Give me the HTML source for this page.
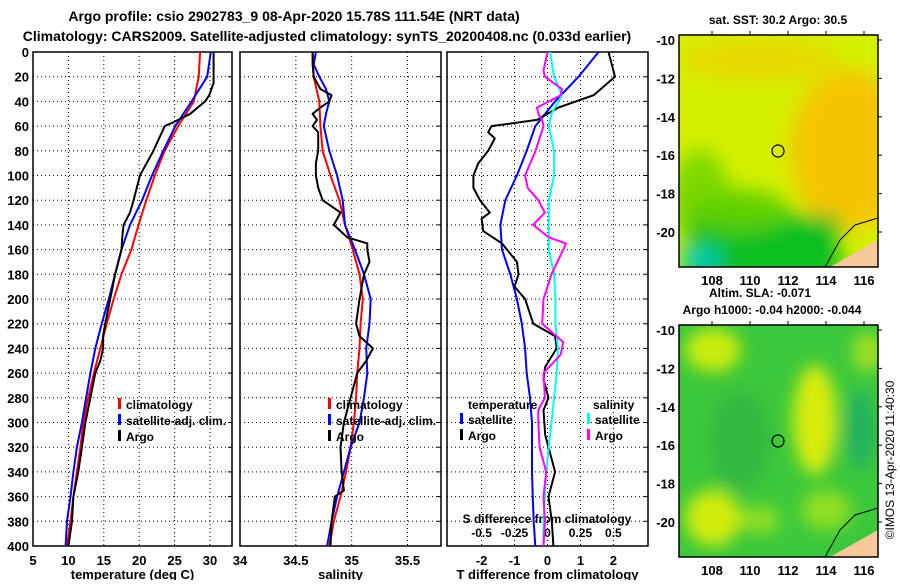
<!DOCTYPE html>
<html><head><meta charset="utf-8"><style>
html,body{margin:0;padding:0;background:#fff;}
body{width:900px;height:580px;overflow:hidden;font-family:"Liberation Sans",sans-serif;}
svg text{font-family:"Liberation Sans",sans-serif;font-weight:bold;fill:#000;}
</style></head><body>
<svg id="fig" width="900" height="580" viewBox="0 0 900 580" xmlns="http://www.w3.org/2000/svg">
<defs>
<filter id="blur1" x="-50%" y="-50%" width="200%" height="200%"><feGaussianBlur stdDeviation="10"/></filter>
<filter id="blur2" x="-50%" y="-50%" width="200%" height="200%"><feGaussianBlur stdDeviation="8"/></filter>
<clipPath id="clipM1"><rect x="679" y="35" width="199" height="232"/></clipPath>
<clipPath id="clipM2"><rect x="679" y="325" width="199" height="232"/></clipPath>
</defs>
<text x="294" y="21" font-size="14" text-anchor="middle">Argo profile: csio 2902783_9 08-Apr-2020 15.78S 111.54E (NRT data)</text>
<text x="327" y="41" font-size="14" text-anchor="middle">Climatology: CARS2009. Satellite-adjusted climatology: synTS_20200408.nc (0.033d earlier)</text>

<g id="map1">
<text x="778" y="24" font-size="12" text-anchor="middle">sat. SST: 30.2 Argo: 30.5</text>
<g clip-path="url(#clipM1)">
<rect x="679" y="35" width="199" height="232" fill="#d4f000"/>
<g filter="url(#blur1)">
<ellipse cx="850" cy="150" rx="60" ry="80" fill="#f5c400"/>
<ellipse cx="760" cy="60" rx="80" ry="20" fill="#e8d800"/>
<ellipse cx="700" cy="200" rx="30" ry="50" fill="#7ed800"/>
<rect x="690" y="215" width="150" height="70" fill="#10c020"/>
<ellipse cx="740" cy="210" rx="50" ry="20" fill="#60d000"/>
<rect x="679" y="250" width="40" height="20" fill="#00ccc0"/>
</g>
<polygon points="830,267 878,240 878,267" fill="#f7c89a"/>
<path d="M825,267 L840,240 L855,225 L878,218" stroke="#000" stroke-width="1" fill="none"/>
</g>
<rect x="679" y="35" width="199" height="232" fill="none" stroke="#000" stroke-width="1.5"/>
<circle cx="778" cy="151" r="6" fill="none" stroke="#000" stroke-width="1.2"/>
</g>

<g id="map2">
<text x="760" y="297" font-size="12" text-anchor="middle">Altim. SLA: -0.071</text>
<text x="772" y="314" font-size="12" text-anchor="middle">Argo h1000: -0.04 h2000: -0.044</text>
<g clip-path="url(#clipM2)">
<rect x="679" y="325" width="199" height="232" fill="#3cc83c"/>
<g filter="url(#blur2)">
<ellipse cx="713" cy="350" rx="28" ry="22" fill="#c8ec10"/>
<ellipse cx="815" cy="420" rx="22" ry="55" fill="#d8ec10"/>
<ellipse cx="713" cy="518" rx="28" ry="28" fill="#d0ec10"/>
<ellipse cx="826" cy="510" rx="25" ry="20" fill="#90e020"/>
<ellipse cx="760" cy="520" rx="20" ry="14" fill="#90e020"/>
<ellipse cx="868" cy="352" rx="15" ry="20" fill="#a0e020"/>
<ellipse cx="860" cy="430" rx="14" ry="40" fill="#22b060"/>
<ellipse cx="740" cy="440" rx="30" ry="50" fill="#30b840"/>
</g>
<polygon points="830,557 878,530 878,557" fill="#f7c89a"/>
<path d="M825,557 L840,530 L855,515 L878,508" stroke="#000" stroke-width="1" fill="none"/>
</g>
<rect x="679" y="325" width="199" height="232" fill="none" stroke="#000" stroke-width="1.5"/>
<circle cx="778" cy="441" r="6" fill="none" stroke="#000" stroke-width="1.2"/>
</g>
<text transform="translate(894,460) rotate(-90)" font-size="12" text-anchor="middle" style="font-weight:normal">©IMOS 13-Apr-2020 11:40:30</text>
<g id="plots"></g>
</svg>
<script>
// ---- data ----
const depthTicks=[0,20,40,60,80,100,120,140,160,180,200,220,240,260,280,300,320,340,360,380,400];
const tempTicks=[5,10,15,20,25,30];
const salTicks=[34,34.5,35,35.5];
const tdiffTicks=[-2,-1,0,1,2];
const sdiffTicks=[-0.5,-0.25,0,0.25,0.5];
const sdiffTickLabels=['-0.5','-0.25','0','0.25','0.5'];

const climTDepth=[0,20,40,60,80,100,120,140,160,180,200,220,240,260,280,300,320,340,360,380,400];
const climT=[28.6,28.4,27.7,25.5,23.6,22.2,21,19.9,18.9,17.5,16.4,15.4,14.5,13.6,12.8,12.1,11.7,11.2,10.7,10.3,9.8];
const satT=[30.1,29.6,27.4,25.1,23.4,21.8,20.4,18.7,17.5,16.6,15.7,14.7,13.8,13.1,12.5,11.9,11.2,10.7,10.3,9.8,9.6];
const argoTDepth=[0,25,35,40,50,57,60,65,80,100,120,130,140,150,160,180,200,220,230,240,250,260,280,300,320,340,360,380,400];
const argoT=[30.5,30.5,29.9,29.3,27.2,24.8,23.6,23.2,22,20.1,19.2,18.7,17.8,17.6,17.5,16.6,15.9,15.2,14.9,14.9,14.5,13.8,13.1,12.4,11.9,11.4,10.7,10.5,10];

const climS=[34.65,34.66,34.71,34.72,34.74,34.81,34.89,34.94,35.01,35.07,35.10,35.08,35.07,35.05,35.04,35.02,34.99,34.95,34.90,34.84,34.80];
const satSDepth=[0,10,20,30,40,50,60,80,100,120,140,160,180,200,220,240,260,280,300,320,340,360,380,400];
const satS=[34.68,34.66,34.71,34.77,34.80,34.77,34.75,34.80,34.87,34.92,34.94,35.03,35.11,35.17,35.16,35.13,35.14,35.11,35.07,34.99,34.93,34.87,34.82,34.78];
const argoSDepth=[0,10,20,30,35,40,45,50,55,60,65,70,80,90,100,110,120,130,140,150,155,160,170,180,200,220,230,240,250,260,280,300,320,340,355,360,380,400];
const argoS=[34.65,34.65,34.66,34.72,34.82,34.80,34.72,34.65,34.69,34.65,34.70,34.70,34.70,34.68,34.68,34.70,34.74,34.90,34.84,34.96,35.14,35.14,35.16,35.11,35.07,35.04,35.07,35.19,35.13,35.05,34.99,34.93,34.90,34.91,34.93,34.85,34.82,34.81];

const satTdiff=[1.55,0.94,0.23,-0.37,-0.63,-0.93,-1.28,-1.43,-1.38,-1.13,-0.93,-0.78,-0.68,-0.63,-0.53,-0.47,-0.47,-0.47,-0.45,-0.42,-0.37];
const argoTdDepth=[0,20,35,45,55,60,65,70,80,90,100,110,120,130,135,145,155,170,180,190,200,220,230,240,255,265,280,290,310,320,340,360,380,400];
const argoTdiff=[1.85,2.05,1.4,0.33,-0.32,-1.7,-1.8,-1.6,-1.8,-2.1,-2.25,-2.25,-2.05,-1.75,-2.0,-1.95,-1.38,-0.93,-0.88,-1.0,-0.68,-0.43,0.23,0.28,-0.07,-0.12,0.03,-0.12,-0.07,0.03,0.23,0.03,0.13,0.18];
const satSdiff=[0.02,0.05,0.11,0.03,0.01,0.05,0.05,0.01,0.01,0.01,0.05,0.06,0.06,0.08,0.07,0.05,0.03,0.01,-0.01,-0.02,-0.03,-0.03];
const satSdDepth=[0,20,35,50,60,80,100,120,140,160,180,200,220,240,260,280,300,320,340,360,380,400];
const argoSdDepth=[0,15,20,30,35,45,50,55,60,80,100,110,120,130,140,150,155,160,180,200,220,235,245,260,280,290,300,320,340,360,380,400];
const argoSdiff=[0,-0.03,-0.02,0.11,0.10,-0.08,-0.07,-0.04,-0.03,-0.09,-0.17,-0.15,-0.07,-0.02,-0.11,0.01,0.14,0.12,0.03,-0.03,-0.04,0.12,0.10,-0.03,-0.02,-0.07,-0.07,-0.06,-0.01,-0.03,-0.02,-0.03];

// ---- axes ----
const TOP=52,BOT=546;
const yD=d=>TOP+d*(BOT-TOP)/400;
const P1={x0:33,x1:232,min:5,max:33.1};
const P2={x0:240,x1:441,min:34,max:35.8};
const P3={x0:447,x1:648,min:-3.05,max:3.05};
const P3S={x0:447,x1:648,min:-0.7625,max:0.7625};
const sx=(p,v)=>p.x0+(v-p.min)*(p.x1-p.x0)/(p.max-p.min);

const NS='http://www.w3.org/2000/svg';
const root=document.getElementById('plots');
function mk(tag,attrs,parent){const e=document.createElementNS(NS,tag);for(const k in attrs)e.setAttribute(k,attrs[k]);(parent||root).appendChild(e);return e;}

function panel(p,name,xticks,xlabels,xtitle,showY){
  const g=mk('g',{});
  
  
  depthTicks.forEach(d=>{
    if(d>0&&d<400){const l=mk('line',{x1:p.x0,x2:p.x1,y1:yD(d),y2:yD(d),stroke:'#000','stroke-width':1,'stroke-dasharray':'1,3'},g);
    
    }
    mk('line',{x1:p.x1-4,x2:p.x1,y1:yD(d),y2:yD(d),stroke:'#000'},g);
    if(showY){const t=mk('text',{x:p.x0-4,y:yD(d)+5,'font-size':13,'text-anchor':'end'},g);t.textContent=d;
    
    }
  });
  xticks.forEach((v,i)=>{
    const x=sx(p,v);
    if(x>p.x0+1&&x<p.x1-1){const l=mk('line',{x1:x,x2:x,y1:TOP,y2:BOT,stroke:'#000','stroke-width':1,'stroke-dasharray':'1,3'},g);
    
    }
    const t=mk('text',{x:x,y:BOT+19,'font-size':13,'text-anchor':'middle'},g);t.textContent=xlabels[i];
    
    
  });
  const r=mk('rect',{x:p.x0,y:TOP,width:p.x1-p.x0,height:BOT-TOP,fill:'none',stroke:'#000','stroke-width':1.5},g);
  
  
  const t=mk('text',{x:(p.x0+p.x1)/2,y:579,'font-size':13,'text-anchor':'middle'},g);t.textContent=xtitle;
  
  
  return g;
}
function series(p,depths,vals,color,w,name){
  const pts=vals.map((v,i)=>sx(p,v).toFixed(1)+','+yD(depths[i]).toFixed(1)).join(' ');
  const l=mk('polyline',{points:pts,fill:'none',stroke:color,'stroke-width':w,'stroke-linejoin':'round'});
  
  
}
function legend(x,y,items){
  items.forEach((it,i)=>{
    mk('rect',{x:x,y:y+i*16-11,width:3,height:11,fill:it[1]});
    const t=mk('text',{x:x+8,y:y+i*16,'font-size':12},root);t.textContent=it[0];
    
    
  });
}

panel(P1,'temperature-panel',tempTicks,tempTicks.map(String),'temperature (deg C)',true);
series(P1,climTDepth,climT,'#f00',2,'temp-climatology-line');
series(P1,climTDepth,satT,'#00f',2,'temp-satellite-line');
series(P1,argoTDepth,argoT,'#000',2,'temp-argo-line');
legend(118,409,[['climatology','#f00'],['satellite-adj. clim.','#00f'],['Argo','#000']]);

panel(P2,'salinity-panel',salTicks,['34','34.5','35','35.5'],'salinity',false);
series(P2,climTDepth,climS,'#f00',2,'sal-climatology-line');
series(P2,satSDepth,satS,'#00f',2,'sal-satellite-line');
series(P2,argoSDepth,argoS,'#000',2,'sal-argo-line');
legend(328,409,[['climatology','#f00'],['satellite-adj. clim.','#00f'],['Argo','#000']]);

panel(P3,'difference-panel',tdiffTicks,tdiffTicks.map(String),'T difference from climatology',false);
sdiffTicks.forEach((v,i)=>{const t=mk('text',{x:sx(P3S,v),y:537,'font-size':12,'text-anchor':'middle'});t.textContent=sdiffTickLabels[i];

});
const sdt=mk('text',{x:547,y:523,'font-size':12,'text-anchor':'middle'});sdt.textContent='S difference from climatology';


series(P3,climTDepth,satTdiff,'#00f',2,'tdiff-satellite-line');
series(P3,argoTdDepth,argoTdiff,'#000',2,'tdiff-argo-line');
series(P3S,satSdDepth,satSdiff,'#0ff',2,'sdiff-satellite-line');
series(P3S,argoSdDepth,argoSdiff,'#f0f',2,'sdiff-argo-line');
const lt=mk('text',{x:468,y:409,'font-size':12});lt.textContent='temperature';


const ls=mk('text',{x:593,y:409,'font-size':12});ls.textContent='salinity';


legend(460,424,[['satellite','#00f'],['Argo','#000']]);
legend(587,424,[['satellite','#0ff'],['Argo','#f0f']]);

// map axes
function mapAxes(y0,lat0y,name){
  const g=mk('g',{});
  
  
  [-10,-12,-14,-16,-18,-20].forEach(l=>{
    const y=lat0y+(-10-l)*19.2;
    mk('line',{x1:878,x2:882,y1:y,y2:y,stroke:'#000'},g);
    const t=mk('text',{x:675,y:y+5,'font-size':13,'text-anchor':'end'},g);t.textContent=l;
    
    
  });
  [108,110,112,114,116].forEach(lo=>{
    const x=712+(lo-108)*19;
    mk('line',{x1:x,x2:x,y1:y0-4,y2:y0,stroke:'#000'},g);
    const t=mk('text',{x:x,y:y0+250,'font-size':13,'text-anchor':'middle'},g);t.textContent=lo;
    
    
  });
}
mapAxes(35,40,'sst-map-axes');
mapAxes(325,330,'sla-map-axes');
</script>
</body></html>
